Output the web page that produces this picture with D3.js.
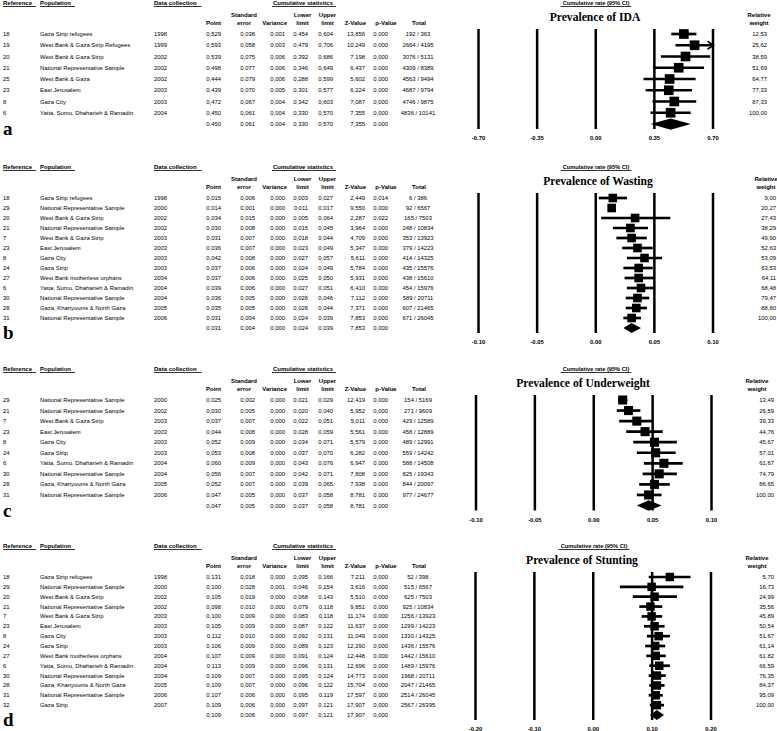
<!DOCTYPE html>
<html><head><meta charset="utf-8">
<script src="https://cdn.jsdelivr.net/npm/d3@7"></script>
<style>
html,body{margin:0;padding:0;background:#fff;}
svg{display:block;}
text{font-family:"Liberation Sans",Arial,sans-serif;fill:#000;}
</style></head><body>
<svg id="chart" width="777" height="731"></svg>
<script>
// ================= DATA =================
// Panel a: IDA
const idaRefs = ["18","19","20","21","25","23","8","6"];
const idaPops = ["Gaza Strip refugees","West Bank & Gaza Strip Refugees","West Bank & Gaza Strip","National Representative Sample","West Bank & Gaza","East Jerusalem","Gaza City","Yatta, Sumu, Dhaharieh & Ramadin"];
const idaYears = [1998,1999,2002,2002,2002,2003,2003,2004];
const idaPoint = [0.529,0.593,0.539,0.498,0.444,0.439,0.472,0.450];
const idaSE = [0.038,0.058,0.075,0.077,0.079,0.070,0.067,0.061];
const idaVar = [0.001,0.003,0.006,0.006,0.006,0.005,0.004,0.004];
const idaLower = [0.454,0.479,0.392,0.346,0.288,0.301,0.342,0.330];
const idaUpper = [0.604,0.706,0.686,0.649,0.599,0.577,0.603,0.570];
const idaZ = [13.856,10.249,7.198,6.437,5.602,6.224,7.087,7.355];
const idaP = [0,0,0,0,0,0,0,0];
const idaEvents = [192,2664,3076,4309,4563,4687,4746,4836];
const idaTotals = [363,4195,5131,8389,9494,9794,9875,10141];
const idaWeight = [12.53,25.62,38.59,51.69,64.77,77.33,87.33,100.00];
const idaSummary = [0.450,0.061,0.004,0.330,0.570,7.355,0.000]; // point, se, var, lower, upper, z, p
const idaTicks = [-0.70,-0.35,0.00,0.35,0.70];

// Panel b: Wasting
const wasRefs = ["18","29","20","21","7","23","8","24","27","6","30","28","31"];
const wasPops = ["Gaza Strip refugees","National Representative Sample","West Bank & Gaza Strip","National Representative Sample","West Bank & Gaza Strip","East Jerusalem","Gaza City","Gaza Strip","West Bank motherless orphans","Yatta, Sumu, Dhaharieh & Ramadin","National Representative Sample","Gaza, Khanyounis & North Gaza","National Representative Sample"];
const wasYears = [1998,2000,2002,2002,2003,2003,2003,2003,2004,2004,2004,2005,2006];
const wasPoint = [0.015,0.014,0.034,0.030,0.031,0.036,0.042,0.037,0.037,0.039,0.036,0.035,0.031];
const wasSE = [0.006,0.001,0.015,0.008,0.007,0.007,0.008,0.006,0.006,0.006,0.005,0.005,0.004];
const wasVar = [0,0,0,0,0,0,0,0,0,0,0,0,0];
const wasLower = [0.003,0.011,0.005,0.015,0.018,0.023,0.027,0.024,0.025,0.027,0.026,0.026,0.024];
const wasUpper = [0.027,0.017,0.064,0.045,0.044,0.049,0.057,0.049,0.050,0.051,0.046,0.044,0.039];
const wasZ = [2.449,9.550,2.287,3.964,4.709,5.347,5.611,5.784,5.931,6.410,7.112,7.371,7.853];
const wasP = [0.014,0,0.022,0,0,0,0,0,0,0,0,0,0];
const wasEvents = [6,92,165,248,353,379,414,435,438,454,589,607,671];
const wasTotals = [386,6567,7503,10834,13923,14223,14325,15576,15610,15976,20711,21465,26045];
const wasWeight = [9.00,20.27,27.43,38.29,49.90,52.63,53.09,63.53,64.11,68.48,79.47,88.80,100.00];
const wasSummary = [0.031,0.004,0.000,0.024,0.039,7.853,0.000];
const wasTicks = [-0.10,-0.05,0.00,0.05,0.10];

// Panel c: Underweight
const undRefs = ["29","21","7","23","8","24","6","30","28","31"];
const undPops = ["National Representative Sample","National Representative Sample","West Bank & Gaza Strip","East Jerusalem","Gaza City","Gaza Strip","Yatta, Sumu, Dhaharieh & Ramadin","National Representative Sample","Gaza, Khanyounis & North Gaza","National Representative Sample"];
const undYears = [2000,2002,2003,2003,2003,2003,2004,2004,2005,2006];
const undPoint = [0.025,0.030,0.037,0.044,0.052,0.053,0.060,0.056,0.052,0.047];
const undSE = [0.002,0.005,0.007,0.008,0.009,0.008,0.009,0.007,0.007,0.005];
const undVar = [0,0,0,0,0,0,0,0,0,0];
const undLower = [0.021,0.020,0.022,0.028,0.034,0.037,0.043,0.042,0.039,0.037];
const undUpper = [0.029,0.040,0.051,0.059,0.071,0.070,0.076,0.071,0.065,0.058];
const undZ = [12.419,5.952,5.011,5.561,5.579,6.282,6.947,7.808,7.938,8.781];
const undP = [0,0,0,0,0,0,0,0,0,0];
const undEvents = [154,271,429,458,489,559,588,825,844,977];
const undTotals = [5169,9609,12589,12889,12991,14242,14508,19343,20097,24677];
const undWeight = [13.49,26.59,39.33,44.76,45.67,57.01,61.67,74.79,86.65,100.00];
const undSummary = [0.047,0.005,0.000,0.037,0.058,8.781,0.000];
const undTicks = [-0.10,-0.05,0.00,0.05,0.10];

// Panel d: Stunting
const stuRefs = ["18","29","20","21","7","23","8","24","27","6","30","28","31","32"];
const stuPops = ["Gaza Strip refugees","National Representative Sample","West Bank & Gaza Strip","National Representative Sample","West Bank & Gaza Strip","East Jerusalem","Gaza City","Gaza Strip","West Bank motherless orphans","Yatta, Sumu, Dhaharieh & Ramadin","National Representative Sample","Gaza, Khanyounis & North Gaza","National Representative Sample","Gaza Strip"];
const stuYears = [1998,2000,2002,2002,2003,2003,2003,2003,2004,2004,2004,2005,2006,2007];
const stuPoint = [0.131,0.100,0.105,0.098,0.100,0.105,0.112,0.106,0.107,0.113,0.109,0.109,0.107,0.109];
const stuSE = [0.018,0.028,0.019,0.010,0.009,0.009,0.010,0.009,0.009,0.009,0.007,0.007,0.006,0.006];
const stuVar = [0,0.001,0,0,0,0,0,0,0,0,0,0,0,0];
const stuLower = [0.095,0.046,0.068,0.079,0.083,0.087,0.092,0.089,0.091,0.096,0.095,0.096,0.095,0.097];
const stuUpper = [0.166,0.154,0.143,0.118,0.118,0.122,0.131,0.123,0.124,0.131,0.124,0.122,0.119,0.121];
const stuZ = [7.211,3.616,5.510,9.851,11.174,11.637,11.049,12.290,12.448,12.696,14.773,15.704,17.597,17.907];
const stuP = [0,0,0,0,0,0,0,0,0,0,0,0,0,0];
const stuEvents = [52,515,625,925,1256,1299,1330,1436,1442,1489,1968,2047,2514,2567];
const stuTotals = [398,6567,7503,10834,13923,14223,14325,15576,15610,15976,20711,21465,26045,26395];
const stuWeight = [5.70,16.73,24.99,35.56,45.89,50.54,51.67,61.14,61.82,66.59,76.35,84.37,95.09,100.00];
const stuSummary = [0.109,0.006,0.000,0.097,0.121,17.907,0.000];
const stuTicks = [-0.20,-0.10,0.00,0.10,0.20];

// Header texts
const colHeadTop = ["Reference","Population","Data collection","Cumulative statistics","Cumulative rate (95% CI)"];

// ================= LAYOUT =================
const panels = [
  {letter:"a", title:"Prevalence of IDA", refs:idaRefs, pops:idaPops, years:idaYears, point:idaPoint, se:idaSE, vr:idaVar, lo:idaLower, up:idaUpper, z:idaZ, p:idaP, ev:idaEvents, tot:idaTotals, w:idaWeight, sum:idaSummary, ticks:idaTicks,
   L:{row1:34, sumY:124, x0:478, x1:712.5, rwX:767, rwH:759, titleX:595, crX:596}},
  {letter:"b", title:"Prevalence of Wasting", refs:wasRefs, pops:wasPops, years:wasYears, point:wasPoint, se:wasSE, vr:wasVar, lo:wasLower, up:wasUpper, z:wasZ, p:wasP, ev:wasEvents, tot:wasTotals, w:wasWeight, sum:wasSummary, ticks:wasTicks,
   L:{row1:198, sumY:328, x0:478, x1:712.5, rwX:776, rwH:766, titleX:598, crX:596}},
  {letter:"c", title:"Prevalence of Underweight", refs:undRefs, pops:undPops, years:undYears, point:undPoint, se:undSE, vr:undVar, lo:undLower, up:undUpper, z:undZ, p:undP, ev:undEvents, tot:undTotals, w:undWeight, sum:undSummary, ticks:undTicks,
   L:{row1:400, sumY:505.5, x0:475.5, x1:711, rwX:774, rwH:757, titleX:583, crX:596}},
  {letter:"d", title:"Prevalence of Stunting", refs:stuRefs, pops:stuPops, years:stuYears, point:stuPoint, se:stuSE, vr:stuVar, lo:stuLower, up:stuUpper, z:stuZ, p:stuP, ev:stuEvents, tot:stuTotals, w:stuWeight, sum:stuSummary, ticks:stuTicks,
   L:{row1:577, sumY:715, x0:475, x1:710.5, rwX:774, rwH:757, titleX:582, crX:594}}
];

const COL = {ref:3, pop:40, year:154, point:221, se:255, seH:244, vr:285, vrH:287, lo:308, loH:302.5, up:333, upH:327.5, z:365, zH:366, p:388, pH:386, tot:418, totH:419, cs:303};
const DATA_FS = 5.9, HEAD_FS = 6;
const SANS = "'Liberation Sans',Arial,sans-serif";
const SERIF = "'Liberation Serif','Times New Roman',serif";

const svg = d3.select("#chart");
const locTable = d3.formatLocale({decimal:",", thousands:"", grouping:[3], currency:["",""], minus:"-"});
const locAxis = d3.formatLocale({decimal:".", thousands:"", grouping:[3], currency:["",""], minus:"-"});
const f3 = locTable.format(".3f"), f2 = locTable.format(".2f"), fTick = locAxis.format(".2f");

function txt(g, x, y, s, anchor, bold, fs) {
  return g.append("text").attr("x", x).attr("y", y).attr("dy", "0.35em")
    .attr("text-anchor", anchor || "start")
    .style("font-family", SANS)
    .attr("font-size", fs || DATA_FS)
    .attr("font-weight", bold ? "bold" : "normal")
    .text(s);
}
function underline(g, t, y, padL, padR) {
  const n = t.node();
  const len = n.getComputedTextLength();
  const anchor = t.attr("text-anchor");
  const x = +t.attr("x");
  let x0 = anchor === "middle" ? x - len/2 : (anchor === "end" ? x - len : x);
  g.append("line").attr("x1", x0 - padL).attr("x2", x0 + len + padR)
    .attr("y1", y).attr("y2", y).attr("stroke", "#000").attr("stroke-width", 0.8);
}

panels.forEach(P => {
  const L = P.L;
  const n = P.refs.length;
  const g = svg.append("g");
  const spacing = (L.sumY - L.row1) / n;
  const y = d3.scaleLinear().domain([0, n]).range([L.row1, L.sumY]);
  const x = d3.scaleLinear().domain([P.ticks[0], P.ticks[P.ticks.length-1]]).range([L.x0, L.x1]);

  const top = L.row1 - 31, h1 = L.row1 - 19.5, h2 = L.row1 - 11.5;

  // top headers
  const tRef = txt(g, COL.ref, top, colHeadTop[0], "start", true, HEAD_FS); underline(g, tRef, top + 3.5, 0, 4);
  const tPop = txt(g, COL.pop, top, colHeadTop[1], "start", true, HEAD_FS); underline(g, tPop, top + 3.5, 0, 4);
  const tDc = txt(g, COL.year, top, colHeadTop[2], "start", true, HEAD_FS); underline(g, tDc, top + 3.5, 0, 5);
  const tCs = txt(g, COL.cs, top, colHeadTop[3], "middle", true, HEAD_FS); underline(g, tCs, top + 3.5, 1, 3);
  const tCr = txt(g, L.crX, top, colHeadTop[4], "middle", true, HEAD_FS - 0.3); underline(g, tCr, top + 3.5, 2, 2);

  // column headers
  txt(g, COL.seH, h1, "Standard", "middle", true, HEAD_FS);
  txt(g, COL.loH, h1, "Lower", "middle", true, HEAD_FS);
  txt(g, COL.upH, h1, "Upper", "middle", true, HEAD_FS);
  txt(g, L.rwH, h1, "Relative", "middle", true, HEAD_FS);
  txt(g, COL.point, h2, "Point", "end", true, HEAD_FS);
  txt(g, COL.seH, h2, "error", "middle", true, HEAD_FS);
  txt(g, COL.vrH, h2, "Variance", "end", true, HEAD_FS);
  txt(g, COL.loH, h2, "limit", "middle", true, HEAD_FS);
  txt(g, COL.upH, h2, "limit", "middle", true, HEAD_FS);
  txt(g, COL.zH, h2, "Z-Value", "end", true, HEAD_FS);
  txt(g, COL.pH, h2, "p-Value", "middle", true, HEAD_FS);
  txt(g, COL.totH, h2, "Total", "middle", true, HEAD_FS);
  txt(g, L.rwH, h2, "weight", "middle", true, HEAD_FS);

  // title
  g.append("text").attr("x", L.titleX).attr("y", L.row1 - 17).attr("dy", "0.35em")
    .attr("text-anchor", "middle").attr("font-weight", "bold")
    .attr("font-size", 11.6).style("font-family", SERIF).text(P.title);

  // panel letter
  g.append("text").attr("x", 3).attr("y", L.sumY + 11).style("font-family", SERIF)
    .attr("font-weight", "bold").attr("font-size", 19).text(P.letter);

  // table rows
  for (let i = 0; i < n; i++) {
    const yy = y(i);
    txt(g, COL.ref, yy, P.refs[i]);
    txt(g, COL.pop, yy, P.pops[i]);
    txt(g, COL.year, yy, P.years[i]);
    txt(g, COL.point, yy, f3(P.point[i]), "end");
    txt(g, COL.se, yy, f3(P.se[i]), "end");
    txt(g, COL.vr, yy, f3(P.vr[i]), "end");
    txt(g, COL.lo, yy, f3(P.lo[i]), "end");
    txt(g, COL.up, yy, f3(P.up[i]), "end");
    txt(g, COL.z, yy, f3(P.z[i]), "end");
    txt(g, COL.p, yy, f3(P.p[i]), "end");
    txt(g, COL.tot, yy, P.ev[i] + " / " + P.tot[i], "middle");
    txt(g, L.rwX, yy, f2(P.w[i]), "end");
  }
  // summary row
  const sy = y(n);
  const S = P.sum;
  txt(g, COL.point, sy, f3(S[0]), "end");
  txt(g, COL.se, sy, f3(S[1]), "end");
  txt(g, COL.vr, sy, f3(S[2]), "end");
  txt(g, COL.lo, sy, f3(S[3]), "end");
  txt(g, COL.up, sy, f3(S[4]), "end");
  txt(g, COL.z, sy, f3(S[5]), "end");
  txt(g, COL.p, sy, f3(S[6]), "end");

  // axis with full-height gridlines
  const lineTop = L.row1 - 5, lineBot = L.sumY + 5;
  const ax = g.append("g").attr("transform", `translate(0,${lineBot})`)
    .call(d3.axisBottom(x).tickValues(P.ticks).tickFormat(fTick)
      .tickSizeInner(-(lineBot - lineTop)).tickSizeOuter(0).tickPadding(7));
  ax.select(".domain").remove();
  ax.selectAll(".tick line").attr("stroke", "#000").attr("stroke-width", 2.5);
  ax.selectAll(".tick text").attr("font-size", DATA_FS).attr("font-weight", "bold")
    .style("font-family", SANS).attr("fill", "#000");

  // forest marks
  const xmax = P.ticks[P.ticks.length-1], xmin = P.ticks[0];
  const box = spacing * 0.86;
  for (let i = 0; i < n; i++) {
    const yy = y(i);
    const lo = Math.max(P.lo[i], xmin), hi = Math.min(P.up[i], xmax);
    g.append("line").attr("x1", x(lo)).attr("x2", x(hi)).attr("y1", yy).attr("y2", yy)
      .attr("stroke", "#000").attr("stroke-width", 2.7);
    if (P.up[i] > xmax) {
      const xt = x(xmax) + 1;
      g.append("path").attr("d", `M${xt-6},${yy-4}L${xt},${yy}L${xt-6},${yy+4}`)
        .attr("fill", "none").attr("stroke", "#000").attr("stroke-width", 1.6);
    }
    g.append("rect").attr("x", x(P.point[i]) - box/2).attr("y", yy - box/2)
      .attr("width", box).attr("height", box).attr("fill", "#000");
  }
  const dh = spacing * 0.5;
  g.append("path")
    .attr("d", `M${x(S[3])},${sy}L${x(S[0])},${sy-dh}L${x(S[4])},${sy}L${x(S[0])},${sy+dh}Z`)
    .attr("fill", "#000");
});
</script>
</body></html>
